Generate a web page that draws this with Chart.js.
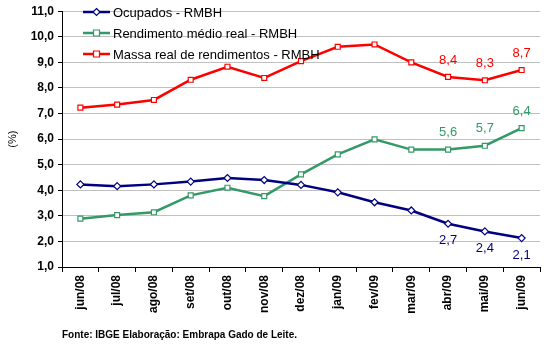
<!DOCTYPE html>
<html>
<head>
<meta charset="utf-8">
<script src="https://cdn.jsdelivr.net/npm/chart.js@4/dist/chart.umd.min.js"></script>
<style>
  html, body { margin: 0; padding: 0; background: #fff; }
  #wrap { width: 546px; height: 347px; position: relative; }
</style>
</head>
<body>
<div id="wrap"><canvas id="chart" width="546" height="347"></canvas></div>
<script>
// dados
const meses = ['jun/08', 'jul/08', 'ago/08', 'set/08', 'out/08', 'nov/08', 'dez/08',
  'jan/09', 'fev/09', 'mar/09', 'abr/09', 'mai/09', 'jun/09'];
const ocupados = [4.23, 4.16, 4.23, 4.34, 4.48, 4.40, 4.21, 3.92, 3.53, 3.21, 2.69, 2.39, 2.13];
const rendimento = [2.89, 3.03, 3.14, 3.80, 4.10, 3.77, 4.62, 5.40, 5.99, 5.59, 5.59, 5.74, 6.43];
const massa = [7.23, 7.35, 7.53, 8.32, 8.83, 8.39, 9.05, 9.61, 9.70, 9.00, 8.43, 8.30, 8.70];
const nomes = ['Ocupados - RMBH', 'Rendimento médio real - RMBH', 'Massa real de rendimentos - RMBH'];
const cores = ['#000080', '#339966', '#FF0000'];
const fonte = 'Fonte: IBGE Elaboração: Embrapa Gado de Leite.';

const comVirgula = v => v.toFixed(1).replace('.', ',');

// rotulos dos ultimos tres meses + legenda dentro da area + rodape
const extras = {
  id: 'extras',
  afterDatasetsDraw(chart) {
    const ctx = chart.ctx;
    ctx.save();
    ctx.font = '13px "Liberation Sans", Arial, sans-serif';
    ctx.textAlign = 'center';
    ctx.textBaseline = 'middle';
    chart.data.datasets.forEach((ds, i) => {
      const meta = chart.getDatasetMeta(i);
      const n = ds.data.length;
      for (let k = n - 3; k < n; k++) {
        const p = meta.data[k];
        const dy = i == 0 ? 17 : -17;
        ctx.fillStyle = cores[i];
        ctx.fillText(comVirgula(ds.data[k]), p.x, p.y + dy);
      }
    });

    // legenda
    const ys = [12, 33, 54];
    ctx.textAlign = 'left';
    nomes.forEach((nome, i) => {
      const y = ys[i];
      ctx.strokeStyle = cores[i];
      ctx.lineWidth = 2.5;
      ctx.beginPath();
      ctx.moveTo(83, y);
      ctx.lineTo(110, y);
      ctx.stroke();
      ctx.fillStyle = '#fff';
      ctx.lineWidth = 1.2;
      ctx.beginPath();
      if (i == 0) {
        ctx.moveTo(96.5, y - 3.5);
        ctx.lineTo(100, y);
        ctx.lineTo(96.5, y + 3.5);
        ctx.lineTo(93, y);
        ctx.closePath();
      } else {
        ctx.rect(93.5, y - 3, 6, 6);
      }
      ctx.fill();
      ctx.stroke();
      ctx.fillStyle = '#000';
      ctx.fillText(nome, 113, y + 1);
    });

    ctx.font = 'bold 10px "Liberation Sans", Arial, sans-serif';
    ctx.fillStyle = '#000';
    ctx.fillText(fonte, 62, 335);
    ctx.restore();
  }
};

function serie(i, dados, estilo, raio) {
  return {
    label: nomes[i],
    data: dados,
    borderColor: cores[i],
    backgroundColor: '#fff',
    borderWidth: 2.5,
    pointStyle: estilo,
    pointRadius: raio,
    pointBorderWidth: 1.2,
    pointBackgroundColor: '#fff',
    pointBorderColor: cores[i],
    tension: 0
  };
}

new Chart(document.getElementById('chart').getContext('2d'), {
  type: 'line',
  data: {
    labels: meses,
    datasets: [
      serie(0, ocupados, 'rectRot', 3.5),
      serie(1, rendimento, 'rect', 3.5),
      serie(2, massa, 'rect', 3.5)
    ]
  },
  plugins: [extras],
  options: {
    responsive: false,
    animation: false,
    devicePixelRatio: 1,
    layout: { padding: { top: 10, right: 6, left: 0, bottom: 0 } },
    plugins: { legend: { display: false }, tooltip: { enabled: false } },
    scales: {
      y: {
        min: 1, max: 11,
        afterFit: s => { s.width = 62; },
        ticks: {
          stepSize: 1,
          color: '#000',
          padding: 4,
          font: { family: '"Liberation Sans", Arial', size: 12, weight: 'bold' },
          callback: v => comVirgula(v)
        },
        grid: { color: '#c0c0c0', tickColor: '#000', tickLength: 4, lineWidth: 1 },
        border: { display: true, color: '#000', width: 1 },
        title: {
          display: true, text: '(%)', color: '#000', padding: { top: 6, bottom: 0 },
          font: { family: '"Liberation Sans", Arial', size: 11 }
        }
      },
      x: {
        offset: true,
        afterFit: s => { s.height = 80; },
        ticks: {
          minRotation: 90, maxRotation: 90,
          autoSkip: false,
          color: '#000',
          padding: 3,
          font: { family: '"Liberation Sans", Arial', size: 12, weight: 'bold' }
        },
        grid: { offset: true, drawOnChartArea: false, color: '#000', tickLength: 5 },
        border: { display: true, color: '#000', width: 1 }
      }
    }
  }
});
</script>
</body>
</html>
